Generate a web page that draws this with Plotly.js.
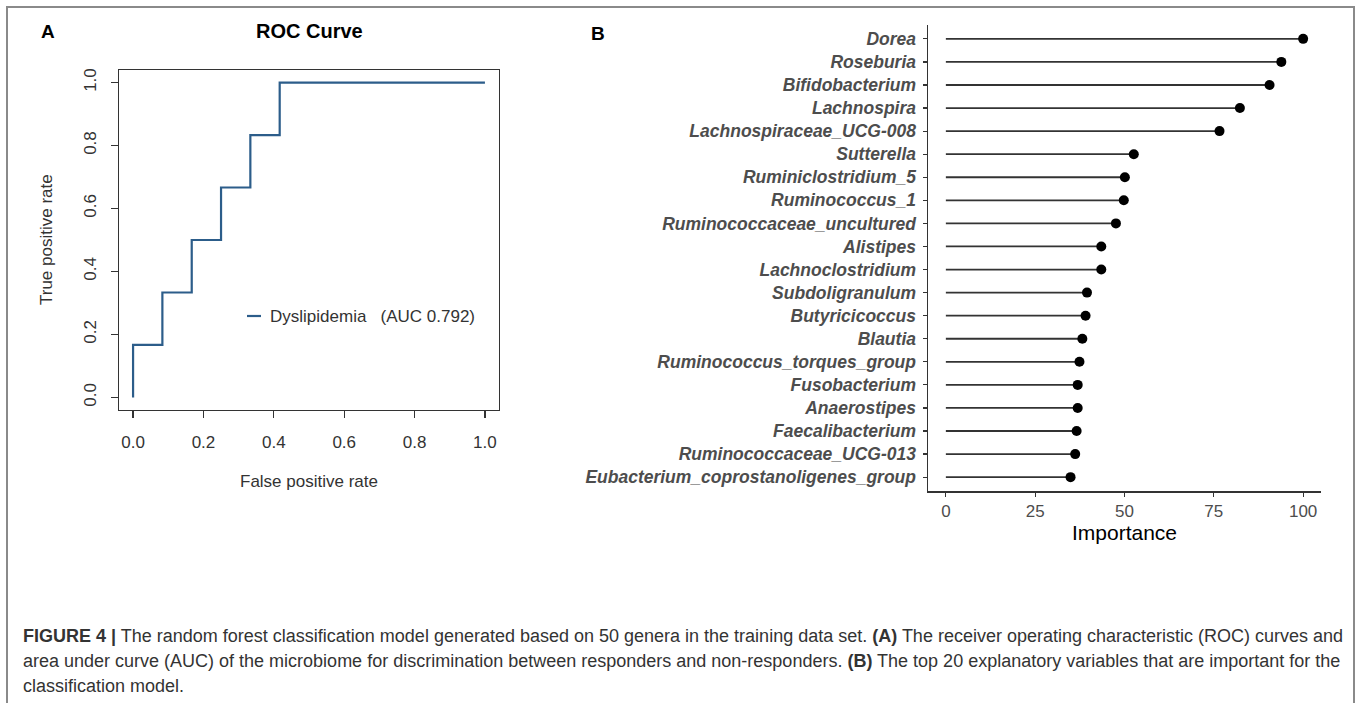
<!DOCTYPE html>
<html>
<head>
<meta charset="utf-8">
<script src="https://cdn.plot.ly/plotly-3.0.1.min.js"></script>
<style>html,body{margin:0;padding:0;background:#fff;}#chart{width:1357px;height:703px;}</style>
</head>
<body>
<div id="chart"></div>
<script>
// ROC curve points (12 negatives, 6 positives)
const fpr = [0, 0, 0.0833, 0.0833, 0.1667, 0.1667, 0.25, 0.25, 0.3333, 0.3333, 0.4167, 0.4167, 1];
const tpr = [0, 0.1667, 0.1667, 0.3333, 0.3333, 0.5, 0.5, 0.6667, 0.6667, 0.8333, 0.8333, 1, 1];
const rocTicks = [0, 0.2, 0.4, 0.6, 0.8, 1.0];
const rocLabel = "Dyslipidemia\u00A0\u00A0\u00A0(AUC 0.792)";

// Variable importance
const genera = ["Dorea", "Roseburia", "Bifidobacterium", "Lachnospira", "Lachnospiraceae_UCG-008",
  "Sutterella", "Ruminiclostridium_5", "Ruminococcus_1", "Ruminococcaceae_uncultured", "Alistipes",
  "Lachnoclostridium", "Subdoligranulum", "Butyricicoccus", "Blautia", "Ruminococcus_torques_group",
  "Fusobacterium", "Anaerostipes", "Faecalibacterium", "Ruminococcaceae_UCG-013", "Eubacterium_coprostanoligenes_group"];
const importance = [100, 93.9, 90.6, 82.3, 76.6, 52.6, 50.1, 49.8, 47.6, 43.5,
  43.5, 39.5, 39.1, 38.2, 37.4, 36.9, 36.9, 36.6, 36.2, 34.9];
const impTicks = [0, 25, 50, 75, 100];

const captionLines = [
  "<b>FIGURE 4 |</b> The random forest classification model generated based on 50 genera in the training data set. <b>(A)</b> The receiver operating characteristic (ROC) curves and",
  "area under curve (AUC) of the microbiome for discrimination between responders and non-responders. <b>(B)</b> The top 20 explanatory variables that are important for the",
  "classification model."
];

const W = 1357, H = 703;
const px = v => v / W;
const py = v => 1 - v / H;
const FONT = "Liberation Sans, Arial, sans-serif";

const segX = [], segY = [];
genera.forEach((g, i) => { segX.push(0, importance[i], null); segY.push(g, g, null); });

const traces = [
  {x: fpr, y: tpr, xaxis: "x", yaxis: "y", type: "scatter", mode: "lines",
   line: {color: "#2c5d8a", width: 2.2}, hoverinfo: "skip", showlegend: false},
  {x: segX, y: segY, xaxis: "x2", yaxis: "y2", type: "scatter", mode: "lines",
   line: {color: "#333333", width: 1.8}, hoverinfo: "skip", showlegend: false},
  {x: importance, y: genera, xaxis: "x2", yaxis: "y2", type: "scatter", mode: "markers",
   marker: {color: "#000", size: 10}, hoverinfo: "skip", showlegend: false}
];

const layout = {
  width: W, height: H,
  margin: {l: 0, r: 0, t: 0, b: 0},
  paper_bgcolor: "#fff", plot_bgcolor: "#fff",
  font: {family: FONT, color: "#333"},
  showlegend: false,
  xaxis: {domain: [px(119), px(499)], anchor: "y", range: [-0.04, 1.04],
    tickvals: rocTicks, tickformat: ".1f", ticks: "outside", ticklen: 7, tickwidth: 1.2, tickcolor: "#333",
    showline: true, mirror: true, linecolor: "#333", linewidth: 1.3, showgrid: false, zeroline: false,
    tickfont: {family: FONT, size: 17, color: "#333"}, ticklabelstandoff: 9},
  yaxis: {domain: [py(410), py(70)], anchor: "x", range: [-0.04, 1.04],
    tickvals: rocTicks, tickformat: ".1f", ticks: "outside", ticklen: 7, tickwidth: 1.2, tickcolor: "#333",
    showline: true, mirror: true, linecolor: "#333", linewidth: 1.3, showgrid: false, zeroline: false,
    tickangle: -90, tickfont: {family: FONT, size: 17, color: "#333"}, ticklabelstandoff: 8},
  xaxis2: {domain: [px(928), px(1321)], anchor: "y2", range: [-5, 105],
    tickvals: impTicks, ticks: "outside", ticklen: 4, tickwidth: 1.2, tickcolor: "#333",
    showline: true, linecolor: "#333", linewidth: 1.5, showgrid: false, zeroline: false,
    tickfont: {family: FONT, size: 17, color: "#4d4d4d"}, ticklabelstandoff: 0},
  yaxis2: {domain: [py(491), py(25)], anchor: "x2", type: "category", categoryarray: genera,
    categoryorder: "array", range: [19.6, -0.6], ticks: "outside", ticklen: 4, tickwidth: 1.2, tickcolor: "#333",
    showline: true, linecolor: "#333", linewidth: 1.5, showgrid: false, zeroline: false,
    tickfont: {family: FONT, size: 17.5, color: "#4d4d4d", weight: "bold", style: "italic"}, ticklabelstandoff: 3},
  shapes: [
    {type: "rect", xref: "paper", yref: "paper", x0: px(7), x1: px(1354), y0: -0.05, y1: py(7),
     line: {color: "#8a8a8a", width: 2}, fillcolor: "rgba(0,0,0,0)"},
    {type: "line", xref: "paper", yref: "paper", x0: px(247), x1: px(261), y0: py(316), y1: py(316),
     line: {color: "#2c5d8a", width: 2.2}}
  ],
  annotations: [
    {text: "<b>A</b>", xref: "paper", yref: "paper", x: px(48), y: py(32), showarrow: false,
     xanchor: "center", yanchor: "middle", font: {family: FONT, size: 19, color: "#000"}},
    {text: "<b>B</b>", xref: "paper", yref: "paper", x: px(598), y: py(33), showarrow: false,
     xanchor: "center", yanchor: "middle", font: {family: FONT, size: 19, color: "#000"}},
    {text: "<b>ROC Curve</b>", xref: "paper", yref: "paper", x: px(309), y: py(31), showarrow: false,
     xanchor: "center", yanchor: "middle", font: {family: FONT, size: 20, color: "#000"}},
    {text: "False positive rate", xref: "paper", yref: "paper", x: px(309), y: py(481), showarrow: false,
     xanchor: "center", yanchor: "middle", font: {family: FONT, size: 17, color: "#333"}},
    {text: "True positive rate", xref: "paper", yref: "paper", x: px(47), y: py(240), showarrow: false,
     textangle: -90, xanchor: "center", yanchor: "middle", font: {family: FONT, size: 17, color: "#333"}},
    {text: rocLabel, xref: "paper", yref: "paper", x: px(268), y: py(316), showarrow: false,
     xanchor: "left", yanchor: "middle", font: {family: FONT, size: 17, color: "#333"}},
    {text: "Importance", xref: "paper", yref: "paper", x: px(1124), y: py(532), showarrow: false,
     xanchor: "center", yanchor: "middle", font: {family: FONT, size: 21, color: "#000"}}
  ]
};

const capY = [636, 661, 686];
captionLines.forEach((t, i) => {
  layout.annotations.push({text: t, xref: "paper", yref: "paper", x: px(21), y: py(capY[i]), showarrow: false,
    xanchor: "left", yanchor: "middle", align: "left", font: {family: FONT, size: 18, color: "#333"}});
});

Plotly.newPlot("chart", traces, layout, {staticPlot: true, displayModeBar: false});
</script>
</body>
</html>
